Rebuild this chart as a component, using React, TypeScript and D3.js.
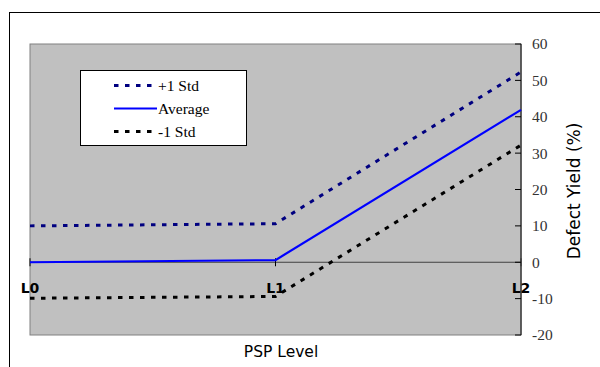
import React from "react";
import * as d3 from "d3";

const categories = ["L0", "L1", "L2"];
const plusStd = [10.0, 10.6, 52.3];
const average = [0.0, 0.6, 41.9];
const minusStd = [-9.9, -9.4, 32.2];
const yTicks = [-20, -10, 0, 10, 20, 30, 40, 50, 60];

const series = [
  { name: "+1 Std", values: plusStd, color: "#000080", dash: "4.5,6.5", width: 3 },
  { name: "Average", values: average, color: "#0000FF", dash: "", width: 2.2 },
  { name: "-1 Std", values: minusStd, color: "#000000", dash: "4.5,6.5", width: 3 },
];

export default function App() {
  const W = 600, H = 367;
  const left = 30, right = 521, top = 44, bottom = 335;
  const x = d3.scalePoint<string>().domain(categories).range([left, right]);
  const y = d3.scaleLinear().domain([-20, 60]).range([bottom, top]);
  const line = d3
    .line<number>()
    .x((_, i) => x(categories[i]) as number)
    .y((d) => y(d));
  const serif = "'Liberation Serif', 'Times New Roman', serif";
  const sans = "'DejaVu Sans', Verdana, sans-serif";
  const legendY = [85.5, 108.5, 131.5];
  return (
    <svg width={W} height={H} style={{ position: "absolute", left: 0, top: 0 }}>
      <rect x={0} y={0} width={W} height={H} fill="#fff" />
      <rect x={9.5} y={12.5} width={W} height={H} fill="#fff" stroke="#000" strokeWidth={1} />
      <rect x={left} y={top} width={right - left} height={bottom - top} fill="#C0C0C0" stroke="#808080" strokeWidth={1} />
      {/* zero line */}
      <line x1={left} x2={right} y1={y(0)} y2={y(0)} stroke="#404040" strokeWidth={1} />
      {categories.map((c) => (
        <line key={c} x1={x(c)} x2={x(c)} y1={y(0) - 4} y2={y(0) + 4} stroke="#000" strokeWidth={1} />
      ))}
      {/* right axis */}
      <line x1={right} x2={right} y1={top} y2={bottom} stroke="#404040" strokeWidth={1.5} />
      {yTicks.map((t) => (
        <g key={t}>
          <line x1={right - 6} x2={right} y1={y(t)} y2={y(t)} stroke="#000" strokeWidth={1} />
          <text x={532} y={y(t)} dy="0.35em" fontFamily={serif} fontSize={15.5} fill="#333">
            {t}
          </text>
        </g>
      ))}
      {series.map((s) => (
        <path
          key={s.name}
          d={line(s.values) || ""}
          fill="none"
          stroke={s.color}
          strokeWidth={s.width}
          strokeDasharray={s.dash || undefined}
        />
      ))}
      {categories.map((c) => (
        <text key={c} x={x(c)} y={293} textAnchor="middle" fontFamily={sans} fontWeight="bold" fontSize={14} fill="#000">
          {c}
        </text>
      ))}
      {/* legend */}
      <rect x={80.5} y={70.5} width={166} height={75} fill="#fff" stroke="#000" strokeWidth={1} />
      {series.map((s, i) => (
        <g key={s.name}>
          <line
            x1={114}
            x2={157}
            y1={legendY[i]}
            y2={legendY[i]}
            stroke={s.color}
            strokeWidth={s.width}
            strokeDasharray={s.dash || undefined}
          />
          <text x={158} y={legendY[i]} dy="0.35em" fontFamily={serif} fontSize={15.5} fill="#000">
            {s.name}
          </text>
        </g>
      ))}
      <text x={281} y={357} textAnchor="middle" fontFamily={sans} fontSize={15.5} fill="#000">
        PSP Level
      </text>
      <text
        transform={`translate(580, ${191}) rotate(-90)`}
        textAnchor="middle"
        fontFamily={sans}
        fontSize={17}
        fill="#000"
      >
        Defect Yield (%)
      </text>
    </svg>
  );
}
